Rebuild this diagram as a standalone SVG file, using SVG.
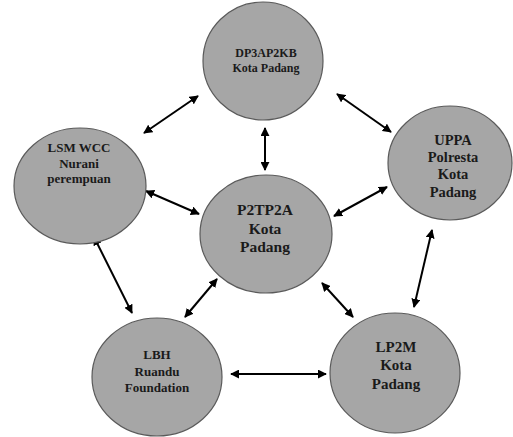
<svg xmlns="http://www.w3.org/2000/svg" width="513" height="437" viewBox="0 0 513 437">
<style>
.n{fill:#a6a6a6;stroke:#5a5a5a;stroke-width:1.2}
.t{font-family:"Liberation Serif","Times New Roman",serif;font-weight:bold;fill:#1a1a1a;text-anchor:middle}
.c{stroke:#000;stroke-width:2;fill:none;marker-start:url(#a);marker-end:url(#a)}
</style>
<defs>
<marker id="a" viewBox="0 0 10 10" refX="9" refY="5" markerWidth="4.5" markerHeight="4.5" orient="auto-start-reverse" markerUnits="strokeWidth">
<path d="M0,0 L10,5 L0,10 z" fill="#000"/>
</marker>
</defs>
<rect width="513" height="437" fill="#fff"/>
<g id="connectors">
<line class="c" x1="198" y1="96" x2="144" y2="133"/>
<line class="c" x1="337" y1="94" x2="391" y2="132"/>
<line class="c" x1="265" y1="128" x2="265" y2="170"/>
<line class="c" x1="146" y1="191" x2="199" y2="214"/>
<line class="c" x1="387" y1="187" x2="334" y2="216"/>
<line class="c" x1="94" y1="237" x2="132" y2="313"/>
<line class="c" x1="217" y1="279" x2="185" y2="317"/>
<line class="c" x1="322" y1="283" x2="353" y2="317"/>
<line class="c" x1="432" y1="230" x2="414" y2="307"/>
<line class="c" x1="231" y1="374" x2="326" y2="374"/>
</g>
<g id="dp3ap2kb">
<ellipse class="n" cx="263" cy="61" rx="60" ry="59"/>
<text class="t" font-size="12" x="266" y="57">DP3AP2KB</text>
<text class="t" font-size="12" x="266" y="72">Kota Padang</text>
</g>
<g id="lsm">
<ellipse class="n" cx="80" cy="186" rx="66" ry="58"/>
<text class="t" font-size="13" x="79" y="152">LSM WCC</text>
<text class="t" font-size="13" x="79" y="168">Nurani</text>
<text class="t" font-size="13" x="79" y="183">perempuan</text>
</g>
<g id="uppa">
<ellipse class="n" cx="450" cy="163" rx="62" ry="57"/>
<text class="t" font-size="14.5" x="453" y="145">UPPA</text>
<text class="t" font-size="14.5" x="453" y="162">Polresta</text>
<text class="t" font-size="14.5" x="453" y="179">Kota</text>
<text class="t" font-size="14.5" x="453" y="197">Padang</text>
</g>
<g id="p2tp2a">
<ellipse class="n" cx="266" cy="234" rx="66" ry="59"/>
<text class="t" font-size="15.5" x="265" y="215">P2TP2A</text>
<text class="t" font-size="15.5" x="265" y="234">Kota</text>
<text class="t" font-size="15.5" x="265" y="252">Padang</text>
</g>
<g id="lbh">
<ellipse class="n" cx="157" cy="377" rx="65" ry="59"/>
<text class="t" font-size="13" x="157" y="359">LBH</text>
<text class="t" font-size="13" x="157" y="376">Ruandu</text>
<text class="t" font-size="13" x="157" y="392">Foundation</text>
</g>
<g id="lp2m">
<ellipse class="n" cx="395" cy="373" rx="65" ry="60"/>
<text class="t" font-size="15" x="396" y="352">LP2M</text>
<text class="t" font-size="15" x="396" y="370">Kota</text>
<text class="t" font-size="15" x="396" y="389">Padang</text>
</g>
</svg>
